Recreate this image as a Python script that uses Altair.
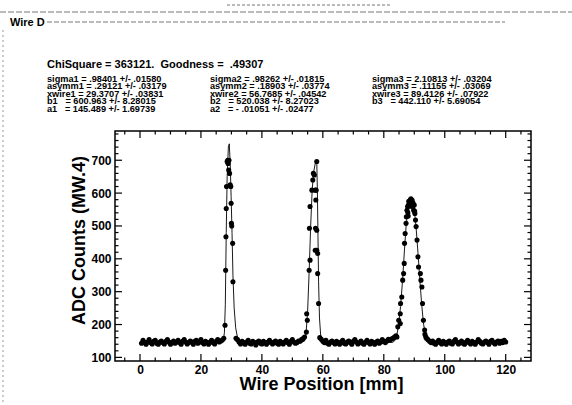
import altair as alt
import pandas as pd

# ---------------- data ----------------
# baseline segments (start x, 0.5 mm steps)
seg1_start = 0.5
seg1_vals = [143, 152, 145, 140, 147, 154, 145, 141, 149,
             152, 143, 140, 147, 150, 145, 141, 149, 154, 147,
             140, 145, 150, 143, 147, 152, 145, 140, 149, 154,
             147, 141, 145, 150, 147, 140, 149, 152, 143, 147,
             154, 145, 141, 149, 145, 140, 147, 152, 145, 141,
             149, 154, 147, 150, 153, 158]
seg2_start = 31.5
seg2_vals = [158, 154, 147, 141, 149, 145, 140, 147, 152, 143,
             141, 149, 145, 138, 147, 150, 143, 141, 149, 145,
             140, 147, 152, 145, 141, 147, 150, 143, 140, 149,
             145, 141, 147, 152, 145, 140, 149, 154, 147, 143,
             145, 150, 149, 154, 157, 162]
seg3_start = 59.0
seg3_vals = [160, 155, 149, 145, 152, 143, 140, 147, 150, 145,
             141, 149, 145, 140, 147, 152, 143, 141, 147, 150,
             145, 140, 149, 154, 147, 141, 145, 150, 143, 140,
             147, 152, 145, 141, 149, 145, 140, 147, 150, 143,
             147, 154, 149, 145, 150, 155, 152, 156, 158, 162,
             166]
seg4_start = 93.5
seg4_vals = [170, 158, 154, 149, 145, 150, 143, 140, 147, 152,
             145, 141, 149, 145, 140, 147, 150, 143, 141, 149,
             154, 147, 141, 145, 150, 143, 140, 147, 152, 145,
             141, 149, 145, 140, 147, 154, 149, 143, 141, 147,
             150, 145, 140, 149, 152, 145, 141, 147, 150, 143,
             149, 145, 152, 147]
step = 0.5

peak1_x = [27.9, 28.1, 28.2, 28.3, 28.4, 28.6, 28.8, 28.9, 29.1, 29.2, 29.4,
           29.6, 29.8, 29.9, 30.0, 30.1, 30.4, 30.5]
peak1_y = [198, 365, 467, 553, 620, 696, 700, 690, 670, 700, 660,
           625, 620, 569, 508, 500, 447, 330]

peak2_x = [54.6, 54.7, 54.9, 55.5, 55.8, 55.6, 55.8, 56.4, 56.7, 56.9, 57.2,
           57.5, 57.8, 57.7, 57.6, 58.0, 57.5, 58.0, 58.3, 58.3, 58.6, 58.0]
peak2_y = [177, 233, 213, 365, 396, 493, 559, 609, 640, 660, 655,
           609, 609, 579, 493, 487, 426, 426, 416, 355, 264, 696]

peak3_x = [84.3, 84.6, 84.9, 85.4, 85.5, 85.9, 85.4, 86.2, 86.5, 86.7, 86.8,
           87.0, 87.3, 87.4, 87.6, 87.8, 88.1, 88.4, 88.7, 89.0, 89.2, 89.5,
           89.8, 90.0, 90.2, 90.4, 90.6, 90.9, 91.2, 91.4, 92.0, 92.2, 92.5,
           92.7, 93.0, 93.4, 93.8, 87.9, 88.2, 88.5, 88.9, 89.3, 89.6, 90.1, 88.0]
peak3_y = [162, 193, 213, 233, 264, 284, 203, 335, 355, 386, 447,
           477, 508, 528, 548, 559, 564, 569, 579, 574, 569, 559,
           548, 564, 538, 518, 498, 457, 406, 375, 355, 335, 314,
           264, 213, 183, 162, 540, 575, 560, 583, 578, 570, 545, 530]

fit_x = [0.5, 26.5, 27.3, 27.7, 28.0, 28.3, 28.6, 29.0, 29.3, 29.6, 29.9, 30.2,
         30.5, 30.9, 31.4, 32.0, 32.8, 33.5,
         53.0, 54.0, 54.5, 55.0, 55.5, 56.0, 56.5, 57.0, 57.5, 58.0, 58.2, 58.4,
         58.6, 58.9, 59.3, 60.0, 61.0,
         83.0, 84.0, 84.8, 85.5, 86.2, 86.8, 87.4, 88.0, 88.7, 89.4, 90.0, 90.6,
         91.2, 91.8, 92.4, 93.0, 93.6, 94.3, 95.5, 120.0]
fit_y = [146, 146, 150, 175, 260, 480, 650, 740, 750, 690, 590, 480,
         350, 250, 190, 160, 148, 146,
         146, 150, 175, 240, 360, 500, 610, 665, 690, 697, 610, 470,
         330, 220, 165, 148, 146,
         146, 155, 195, 255, 340, 430, 510, 555, 578, 572, 550, 495,
         420, 340, 265, 205, 170, 153, 146, 146]

x_major = [0, 20, 40, 60, 80, 100, 120]
x_minor = [-5, 5, 10, 15, 25, 30, 35, 45, 50, 55, 65, 70, 75, 85, 90, 95,
           105, 110, 115, 125]
y_major = [100, 200, 300, 400, 500, 600, 700]
y_minor = [120, 140, 160, 180, 220, 240, 260, 280, 320, 340, 360, 380,
           420, 440, 460, 480, 520, 540, 560, 580, 620, 640, 660, 680,
           720, 740, 760, 780]

header_text = "ChiSquare = 363121.\u00a0 Goodness = \u00a0.49307"
col1_text = ["sigma1 = .98401 +/- .01580",
             "asymm1 = .29121 +/- .03179",
             "xwire1 = 29.3707 +/- .03831",
             "b1\u00a0\u00a0\u00a0= 600.963 +/- 8.28015",
             "a1\u00a0\u00a0\u00a0= 145.489 +/- 1.69739"]
col2_text = ["sigma2 = .98262 +/- .01815",
             "asymm2 = .18903 +/- .03774",
             "xwire2 = 56.7685 +/- .04542",
             "b2\u00a0\u00a0\u00a0= 520.038 +/- 8.27023",
             "a2\u00a0\u00a0\u00a0= - .01051 +/- .02477"]
col3_text = ["sigma3 = 2.10813 +/- .03204",
             "asymm3 = .11155 +/- .03069",
             "xwire3 = 89.4126 +/- .07922",
             "b3\u00a0\u00a0\u00a0= 442.110 +/- 5.69054"]
panel_title = "Wire D"

# ---------------- build ----------------
pts = []
for start, vals in [(seg1_start, seg1_vals), (seg2_start, seg2_vals),
                    (seg3_start, seg3_vals), (seg4_start, seg4_vals)]:
    for i, v in enumerate(vals):
        pts.append({"x": round(start + i * step, 2), "y": v})
for xs, ys in [(peak1_x, peak1_y), (peak2_x, peak2_y), (peak3_x, peak3_y)]:
    for a, b in zip(xs, ys):
        pts.append({"x": a, "y": b})
pts_df = pd.DataFrame(pts)
fit_df = pd.DataFrame({"x": fit_x, "y": fit_y, "o": list(range(len(fit_x)))})

W, H = 416, 230
FONT = "Liberation Sans"

xscale = alt.Scale(domain=[-8.2, 128.3], nice=False, zero=False)
yscale = alt.Scale(domain=[89, 789], nice=False, zero=False)

xaxis = alt.Axis(values=x_major, ticks=False, tickSize=0, domain=False, grid=False,
                 labelFont=FONT, labelFontWeight="bold", labelFontSize=12,
                 labelColor="black", labelPadding=3, format="d", labelOverlap=False,
                 title="Wire Position [mm]", titleFont=FONT, titleFontWeight="bold",
                 titleFontSize=18, titleColor="black", titleX=206, titleY=28,
                 titleBaseline="alphabetic", titleAlign="center")
yaxis = alt.Axis(values=y_major, ticks=False, tickSize=0, domain=False, grid=False,
                 labelFont=FONT, labelFontWeight="bold", labelFontSize=12,
                 labelColor="black", labelPadding=4, format="d", labelOverlap=False,
                 title="ADC Counts (MW.4)", titleFont=FONT, titleFontWeight="bold",
                 titleFontSize=18, titleColor="black", titleX=-31, titleY=109,
                 titleAngle=270, titleBaseline="alphabetic", titleAlign="center")

fit_line = alt.Chart(fit_df).mark_line(color="black", strokeWidth=0.9).encode(
    x=alt.X("x:Q", scale=xscale, axis=xaxis, title="Wire Position [mm]"),
    y=alt.Y("y:Q", scale=yscale, axis=yaxis, title="ADC Counts (MW.4)"),
    order="o:Q",
)
points = alt.Chart(pts_df).mark_circle(color="black", size=26, opacity=1).encode(
    x=alt.X("x:Q", scale=xscale, axis=xaxis, title="Wire Position [mm]"),
    y=alt.Y("y:Q", scale=yscale, axis=yaxis, title="ADC Counts (MW.4)"),
)

def xticks(vals, length, top):
    df = pd.DataFrame({"x": vals})
    if top:
        y0, y1 = 0, length
    else:
        y0, y1 = H, H - length
    return alt.Chart(df).mark_rule(color="black", strokeWidth=1.2).encode(
        x=alt.X("x:Q", scale=xscale, axis=xaxis, title="Wire Position [mm]"),
        y=alt.value(y0), y2=alt.value(y1))

def yticks(vals, length, right):
    df = pd.DataFrame({"y": vals})
    if right:
        x0, x1 = W, W - length
    else:
        x0, x1 = 0, length
    return alt.Chart(df).mark_rule(color="black", strokeWidth=1.2).encode(
        y=alt.Y("y:Q", scale=yscale, axis=yaxis, title="ADC Counts (MW.4)"),
        x=alt.value(x0), x2=alt.value(x1))

tick_layers = [xticks(x_major, 7, False), xticks(x_major, 7, True),
               xticks(x_minor, 3.5, False), xticks(x_minor, 3.5, True),
               yticks(y_major, 7, False), yticks(y_major, 7, True),
               yticks(y_minor, 3.5, False), yticks(y_minor, 3.5, True)]

one = pd.DataFrame({"k": [0]})

def txt(s, x, y, size):
    return alt.Chart(one).mark_text(text=s, align="left", baseline="alphabetic",
                                    font=FONT, fontWeight="bold", fontSize=size,
                                    color="black").encode(x=alt.value(x), y=alt.value(y))

text_layers = [txt(header_text, -68, -63, 11), txt(panel_title, -105, -105, 11)]
row_y = [-49.5, -42, -34.5, -27, -19.5]
for col, cx in [(col1_text, -68), (col2_text, 95), (col3_text, 257)]:
    for s, ry in zip(col, row_y):
        text_layers.append(txt(s, cx, ry, 9.2))

def hrule(x0, x1, y, dash):
    return alt.Chart(one).mark_rule(color="#777777", strokeWidth=1, strokeDash=dash).encode(
        x=alt.value(x0), x2=alt.value(x1), y=alt.value(y))

deco = [hrule(-115, 457, -119, [6, 2]), hrule(-68, 390, -109, [5, 2]),
        hrule(112, 275, -126, [3, 2]),
        alt.Chart(one).mark_rule(color="#999999", strokeWidth=1, strokeDash=[2, 3]).encode(
            x=alt.value(-112), y=alt.value(-101), y2=alt.value(274))]

chart = alt.layer(fit_line, points, *tick_layers, *text_layers, *deco).properties(
    width=W, height=H,
    padding={"left": 115, "top": 131, "right": 41, "bottom": 44},
    autosize=alt.AutoSizeParams(type="none"),
    background="white",
).configure_view(stroke="black", strokeWidth=1.5).configure_axis(labelOverlap=False)

chart.save("out.html", embed_options={"renderer": "svg", "actions": False})
